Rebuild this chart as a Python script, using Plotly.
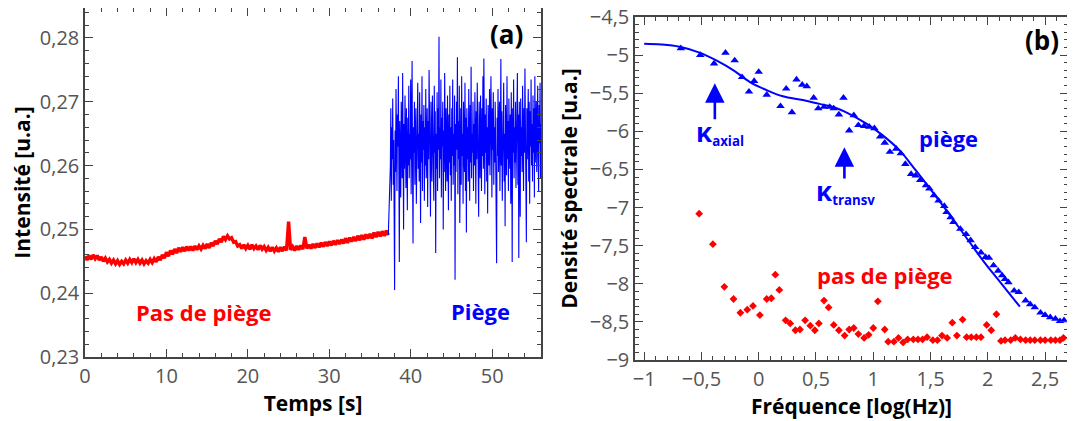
import plotly.graph_objects as go

# (a) intensité en fonction du temps
t_rouge_debut, t_rouge_pas = 0.0, 0.25
intensite_sans_piege = [
    0.2458, 0.2452, 0.2459, 0.2453, 0.2460, 0.2454, 0.2459, 0.2452,
    0.2457, 0.2450, 0.2455, 0.2449, 0.2453, 0.2447, 0.2452, 0.2446,
    0.2451, 0.2445, 0.2450, 0.2446, 0.2452, 0.2447, 0.2453, 0.2448,
    0.2454, 0.2448, 0.2453, 0.2447, 0.2452, 0.2446, 0.2451, 0.2447,
    0.2453, 0.2448, 0.2454, 0.2449, 0.2457, 0.2452, 0.2460, 0.2455,
    0.2464, 0.2458, 0.2467, 0.2461, 0.2469, 0.2463, 0.2471, 0.2465,
    0.2472, 0.2466, 0.2473, 0.2467, 0.2473, 0.2467, 0.2474, 0.2468,
    0.2474, 0.2469, 0.2475, 0.2470, 0.2477, 0.2471, 0.2479, 0.2474,
    0.2482, 0.2477, 0.2485, 0.2480, 0.2489, 0.2484, 0.2490, 0.2485,
    0.2487, 0.2480, 0.2481, 0.2474, 0.2476, 0.2470, 0.2476, 0.2470,
    0.2475, 0.2469, 0.2476, 0.2470, 0.2474, 0.2468, 0.2475, 0.2469,
    0.2473, 0.2467, 0.2472, 0.2466, 0.2472, 0.2466, 0.2471, 0.2465,
    0.2472, 0.2466, 0.2473, 0.2467, 0.2512, 0.2468, 0.2473, 0.2467,
    0.2474, 0.2468, 0.2475, 0.2469, 0.2488, 0.2470, 0.2476, 0.2470,
    0.2477, 0.2471, 0.2478, 0.2472, 0.2479, 0.2473, 0.2480, 0.2474,
    0.2481, 0.2475, 0.2482, 0.2476, 0.2483, 0.2477, 0.2484, 0.2478,
    0.2486, 0.2479, 0.2487, 0.2481, 0.2488, 0.2482, 0.2490, 0.2483,
    0.2491, 0.2484, 0.2492, 0.2486, 0.2493, 0.2486, 0.2495, 0.2488,
    0.2496, 0.2489, 0.2497, 0.2490, 0.2498, 0.2491,
]

t_bleu_debut, t_bleu_fin = 37.5, 56.0
intensite_piege = [
    0.2600, 0.2690, 0.2545, 0.2660, 0.2610, 0.2705, 0.2570, 0.2640, 0.2525, 0.2405,
    0.2655, 0.2590, 0.2720, 0.2615, 0.2560, 0.2680, 0.2630, 0.2740, 0.2585, 0.2449,
    0.2670, 0.2605, 0.2550, 0.2700, 0.2625, 0.2580, 0.2745, 0.2635, 0.2500, 0.2665,
    0.2595, 0.2710, 0.2640, 0.2565, 0.2690, 0.2620, 0.2530, 0.2675, 0.2600, 0.2725,
    0.2580, 0.2650, 0.2610, 0.2735, 0.2555, 0.2685, 0.2764, 0.2590, 0.2478, 0.2660,
    0.2620, 0.2700, 0.2570, 0.2645, 0.2690, 0.2540, 0.2665, 0.2615, 0.2730, 0.2595,
    0.2650, 0.2575, 0.2715, 0.2630, 0.2510, 0.2680, 0.2605, 0.2740, 0.2560, 0.2670,
    0.2625, 0.2695, 0.2545, 0.2660, 0.2600, 0.2720, 0.2580, 0.2640, 0.2690, 0.2535,
    0.2670, 0.2610, 0.2750, 0.2590, 0.2655, 0.2520, 0.2700, 0.2630, 0.2575, 0.2710,
    0.2600, 0.2665, 0.2545, 0.2725, 0.2620, 0.2685, 0.2463, 0.2650, 0.2595, 0.2715,
    0.2560, 0.2690, 0.2625, 0.2802, 0.2580, 0.2660, 0.2610, 0.2735, 0.2550, 0.2675,
    0.2630, 0.2700, 0.2500, 0.2655, 0.2590, 0.2745, 0.2615, 0.2560, 0.2690, 0.2640,
    0.2575, 0.2710, 0.2620, 0.2530, 0.2680, 0.2605, 0.2725, 0.2585, 0.2660, 0.2545,
    0.2690, 0.2615, 0.2735, 0.2570, 0.2650, 0.2600, 0.2710, 0.2421, 0.2665, 0.2590,
    0.2700, 0.2625, 0.2770, 0.2555, 0.2670, 0.2610, 0.2725, 0.2510, 0.2655, 0.2690,
    0.2570, 0.2740, 0.2615, 0.2650, 0.2540, 0.2700, 0.2625, 0.2590, 0.2730, 0.2560,
    0.2675, 0.2495, 0.2690, 0.2610, 0.2660, 0.2575, 0.2720, 0.2630, 0.2545, 0.2695,
    0.2605, 0.2755, 0.2580, 0.2650, 0.2620, 0.2700, 0.2560, 0.2665, 0.2600, 0.2715,
    0.2635, 0.2540, 0.2685, 0.2610, 0.2730, 0.2590, 0.2660, 0.2520, 0.2700, 0.2625,
    0.2580, 0.2710, 0.2645, 0.2560, 0.2690, 0.2615, 0.2740, 0.2595, 0.2768, 0.2640,
    0.2555, 0.2680, 0.2620, 0.2705, 0.2575, 0.2660, 0.2525, 0.2695, 0.2630, 0.2600,
    0.2720, 0.2585, 0.2650, 0.2740, 0.2610, 0.2550, 0.2690, 0.2625, 0.2715, 0.2570,
    0.2660, 0.2605, 0.2700, 0.2640, 0.2580, 0.2447, 0.2675, 0.2615, 0.2720, 0.2590,
    0.2655, 0.2700, 0.2560, 0.2640, 0.2767, 0.2600, 0.2685, 0.2545, 0.2660, 0.2620,
    0.2730, 0.2575, 0.2650, 0.2505, 0.2695, 0.2635, 0.2585, 0.2740, 0.2610, 0.2670,
    0.2560, 0.2705, 0.2625, 0.2595, 0.2680, 0.2540, 0.2715, 0.2645, 0.2449, 0.2690,
    0.2620, 0.2735, 0.2580, 0.2660, 0.2605, 0.2700, 0.2565, 0.2655, 0.2610, 0.2745,
    0.2570, 0.2680, 0.2455, 0.2700, 0.2630, 0.2520, 0.2705, 0.2615, 0.2660, 0.2590,
    0.2725, 0.2640, 0.2560, 0.2690, 0.2620, 0.2752, 0.2595, 0.2670, 0.2480, 0.2690,
    0.2610, 0.2660, 0.2720, 0.2575, 0.2700, 0.2540, 0.2685, 0.2630, 0.2735, 0.2600,
    0.2665, 0.2575, 0.2710, 0.2620, 0.2690, 0.2550, 0.2740, 0.2605, 0.2660, 0.2700,
    0.2590, 0.2650, 0.2725, 0.2610, 0.2560, 0.2695, 0.2635, 0.2730, 0.2580, 0.2665,
]

# (b) densité spectrale
freq_piege = [-0.68, -0.51, -0.39, -0.29, -0.21, -0.145, -0.085, -0.04, 0.0, 0.07,
              0.19, 0.24, 0.29, 0.33, 0.38, 0.42, 0.48, 0.52, 0.57, 0.62,
              0.655, 0.70, 0.74, 0.79, 0.83, 0.87, 0.92, 0.965, 1.01, 1.06,
              1.10, 1.145, 1.20, 1.24, 1.28, 1.33, 1.37, 1.41, 1.46, 1.49,
              1.53, 1.57, 1.62, 1.64, 1.675, 1.70, 1.76, 1.81, 1.85, 1.89,
              1.94, 1.98, 2.01, 2.05, 2.09, 2.125, 2.15, 2.18, 2.23, 2.27,
              2.33, 2.37, 2.41, 2.46, 2.50, 2.545, 2.59, 2.63, 2.665]
dsp_piege = [-4.91, -5.0, -5.11, -4.97, -5.07, -5.29, -5.48, -5.34, -5.22, -5.52,
             -5.67, -5.44, -5.75, -5.32, -5.39, -5.41, -5.56, -5.70, -5.68, -5.68,
             -5.70, -5.78, -5.56, -5.99, -5.79, -5.92, -5.93, -5.94, -5.96, -6.07,
             -6.15, -6.27, -6.23, -6.29, -6.43, -6.56, -6.58, -6.64, -6.71, -6.75,
             -6.84, -6.91, -6.98, -7.06, -7.13, -7.19, -7.28, -7.35, -7.43, -7.52,
             -7.59, -7.65, -7.66, -7.76, -7.83, -7.89, -7.94, -7.98, -8.09, -8.11,
             -8.22, -8.27, -8.31, -8.38, -8.41, -8.44, -8.46, -8.49, -8.48]

freq_ajust = [-1.0, -0.85, -0.69, -0.51, -0.37, -0.22, -0.08, 0.07, 0.21, 0.385,
              0.53, 0.65, 0.79, 0.94, 1.08, 1.23, 1.37, 1.52, 1.65, 1.81,
              1.98, 2.12, 2.28]
dsp_ajust = [-4.85, -4.86, -4.89, -4.97, -5.07, -5.20, -5.35, -5.46, -5.54, -5.59,
             -5.64, -5.68, -5.77, -5.90, -6.05, -6.25, -6.51, -6.80, -7.06, -7.39,
             -7.74, -8.00, -8.30]

freq_sans = [-0.52, -0.40, -0.30, -0.22, -0.16, -0.10, -0.05, 0.01, 0.07, 0.11,
             0.145, 0.18, 0.235, 0.275, 0.32, 0.36, 0.405, 0.45, 0.49, 0.525,
             0.57, 0.61, 0.655, 0.70, 0.75, 0.79, 0.83, 0.87, 0.92, 0.96,
             1.0, 1.04, 1.10, 1.13, 1.18, 1.22, 1.26, 1.30, 1.35, 1.39,
             1.43, 1.47, 1.52, 1.56, 1.60, 1.645, 1.69, 1.73, 1.78, 1.815,
             1.855, 1.90, 1.94, 1.99, 2.03, 2.075, 2.115, 2.15, 2.20, 2.24,
             2.285, 2.33, 2.37, 2.41, 2.46, 2.50, 2.55, 2.59, 2.63, 2.66]
dsp_sans = [-7.08, -7.48, -8.04, -8.20, -8.38, -8.34, -8.29, -8.41, -8.20, -8.19,
            -7.88, -8.08, -8.48, -8.52, -8.61, -8.60, -8.48, -8.55, -8.61, -8.52,
            -8.22, -8.31, -8.54, -8.61, -8.68, -8.60, -8.58, -8.66, -8.71, -8.67,
            -8.58, -8.23, -8.60, -8.76, -8.76, -8.71, -8.77, -8.73, -8.73, -8.73,
            -8.73, -8.70, -8.74, -8.74, -8.68, -8.71, -8.51, -8.68, -8.47, -8.70,
            -8.70, -8.70, -8.70, -8.54, -8.61, -8.40, -8.75, -8.74, -8.74, -8.71,
            -8.73, -8.74, -8.74, -8.74, -8.74, -8.74, -8.74, -8.74, -8.74, -8.71]

ROUGE = "#ff0000"
BLEU = "#0000ff"
GRIS = "#555555"
POLICE = "Open Sans"

# la page ajoute 8 px de marge autour du graphique
W, H, OFF = 1067, 413, 8


def dom_x(a, b):
    return [(a - OFF) / W, (b - OFF) / W]


def dom_y(bas, haut):
    return [1 - (bas - OFF) / H, min(1.0, 1 - (haut - OFF) / H)]


t_rouge = [t_rouge_debut + i * t_rouge_pas for i in range(len(intensite_sans_piege))]
pas_bleu = (t_bleu_fin - t_bleu_debut) / (len(intensite_piege) - 1)
t_bleu = [t_bleu_debut + i * pas_bleu for i in range(len(intensite_piege))]
# on raccorde la courbe bleue a la fin de la rouge
t_bleu = [t_rouge[-1]] + t_bleu
intensite_piege_trace = [intensite_sans_piege[-1]] + intensite_piege

fig = go.Figure()
fig.add_trace(go.Scatter(x=t_rouge, y=intensite_sans_piege, mode="lines",
                         line=dict(color=ROUGE, width=3.4), xaxis="x", yaxis="y"))
fig.add_trace(go.Scatter(x=t_bleu, y=intensite_piege_trace, mode="lines",
                         line=dict(color=BLEU, width=1.1), xaxis="x", yaxis="y"))

fig.add_trace(go.Scatter(x=freq_ajust, y=dsp_ajust, mode="lines", line_shape="spline",
                         line=dict(color=BLEU, width=2), xaxis="x2", yaxis="y2"))
fig.add_trace(go.Scatter(x=freq_piege, y=dsp_piege, mode="markers",
                         marker=dict(symbol="triangle-up", size=7.5, color=BLEU),
                         xaxis="x2", yaxis="y2"))
fig.add_trace(go.Scatter(x=freq_sans, y=dsp_sans, mode="markers",
                         marker=dict(symbol="diamond", size=6, color=ROUGE),
                         xaxis="x2", yaxis="y2"))

axe = dict(showgrid=False, zeroline=False, showline=True, linecolor="#444444", linewidth=1.5,
           mirror="ticks", ticks="inside", ticklen=8, tickwidth=1.2, tickcolor="#444444",
           automargin=False, ticklabeloverflow="allow",
           tickfont=dict(family=POLICE, size=20, color=GRIS),
           minor=dict(ticks="inside", ticklen=4, tickwidth=1, tickcolor="#444444"))
titre = dict(family=POLICE, size=21, color="black", weight="bold")

fig.update_layout(
    width=W, height=H,
    margin=dict(l=0, r=0, t=0, b=0),
    paper_bgcolor="white", plot_bgcolor="white",
    showlegend=False,
    separators=", ",
    xaxis=dict(axe, domain=dom_x(85, 541), anchor="y", range=[0, 56], dtick=10,
               minor=dict(axe["minor"], dtick=2),
               title=dict(text="Temps [s]", font=titre, standoff=4)),
    yaxis=dict(axe, domain=dom_y(357, 7), anchor="x", range=[0.23, 0.2847], dtick=0.01,
               tickformat=".2f", minor=dict(axe["minor"], dtick=0.002),
               title=dict(text="Intensité [u.a.]", font=titre, standoff=6)),
    xaxis2=dict(axe, domain=dom_x(635, 1068), anchor="y2", range=[-1.08, 2.7], dtick=0.5,
                minor=dict(axe["minor"], dtick=0.1),
                title=dict(text="Fréquence [log(Hz)]", font=titre, standoff=4)),
    yaxis2=dict(axe, domain=dom_y(360, 17), anchor="x2", range=[-9, -4.5], dtick=0.5,
                minor=dict(axe["minor"], dtick=0.1),
                title=dict(text="Densité spectrale [u.a.]", font=titre, standoff=6)),
)

lbl = dict(family=POLICE, size=22, weight="bold")
kappa = '<span style="font-size:26px">κ</span><sub>%s</sub>'
annotations = [
    dict(x=51.8, y=0.2806, xref="x", yref="y", text="(a)", showarrow=False,
         font=dict(family=POLICE, size=26, color="black", weight="bold")),
    dict(x=2.47, y=-4.80, xref="x2", yref="y2", text="(b)", showarrow=False,
         font=dict(family=POLICE, size=26, color="black", weight="bold")),
    dict(x=14.5, y=0.2371, xref="x", yref="y", text="Pas de piège", showarrow=False,
         font=dict(lbl, color=ROUGE)),
    dict(x=48.6, y=0.2372, xref="x", yref="y", text="Piège", showarrow=False,
         font=dict(lbl, color=BLEU)),
    dict(x=1.66, y=-6.09, xref="x2", yref="y2", text="piège", showarrow=False,
         font=dict(lbl, color=BLEU)),
    dict(x=1.10, y=-7.88, xref="x2", yref="y2", text="pas de piège", showarrow=False,
         font=dict(lbl, color=ROUGE)),
    dict(x=-0.34, y=-6.01, xref="x2", yref="y2", text=kappa % "axial", showarrow=False,
         font=dict(lbl, size=19, color=BLEU)),
    dict(x=0.757, y=-6.78, xref="x2", yref="y2", text=kappa % "transv", showarrow=False,
         font=dict(lbl, size=19, color=BLEU)),
    dict(x=-0.383, y=-5.37, ax=-0.383, ay=-5.86, xref="x2", yref="y2", axref="x2", ayref="y2",
         text="", showarrow=True, arrowhead=2, arrowsize=1.5, arrowwidth=2.6, arrowcolor=BLEU),
    dict(x=0.748, y=-6.21, ax=0.748, ay=-6.64, xref="x2", yref="y2", axref="x2", ayref="y2",
         text="", showarrow=True, arrowhead=2, arrowsize=1.5, arrowwidth=2.6, arrowcolor=BLEU),
]
fig.update_layout(annotations=annotations)

fig.write_html("out.html")
